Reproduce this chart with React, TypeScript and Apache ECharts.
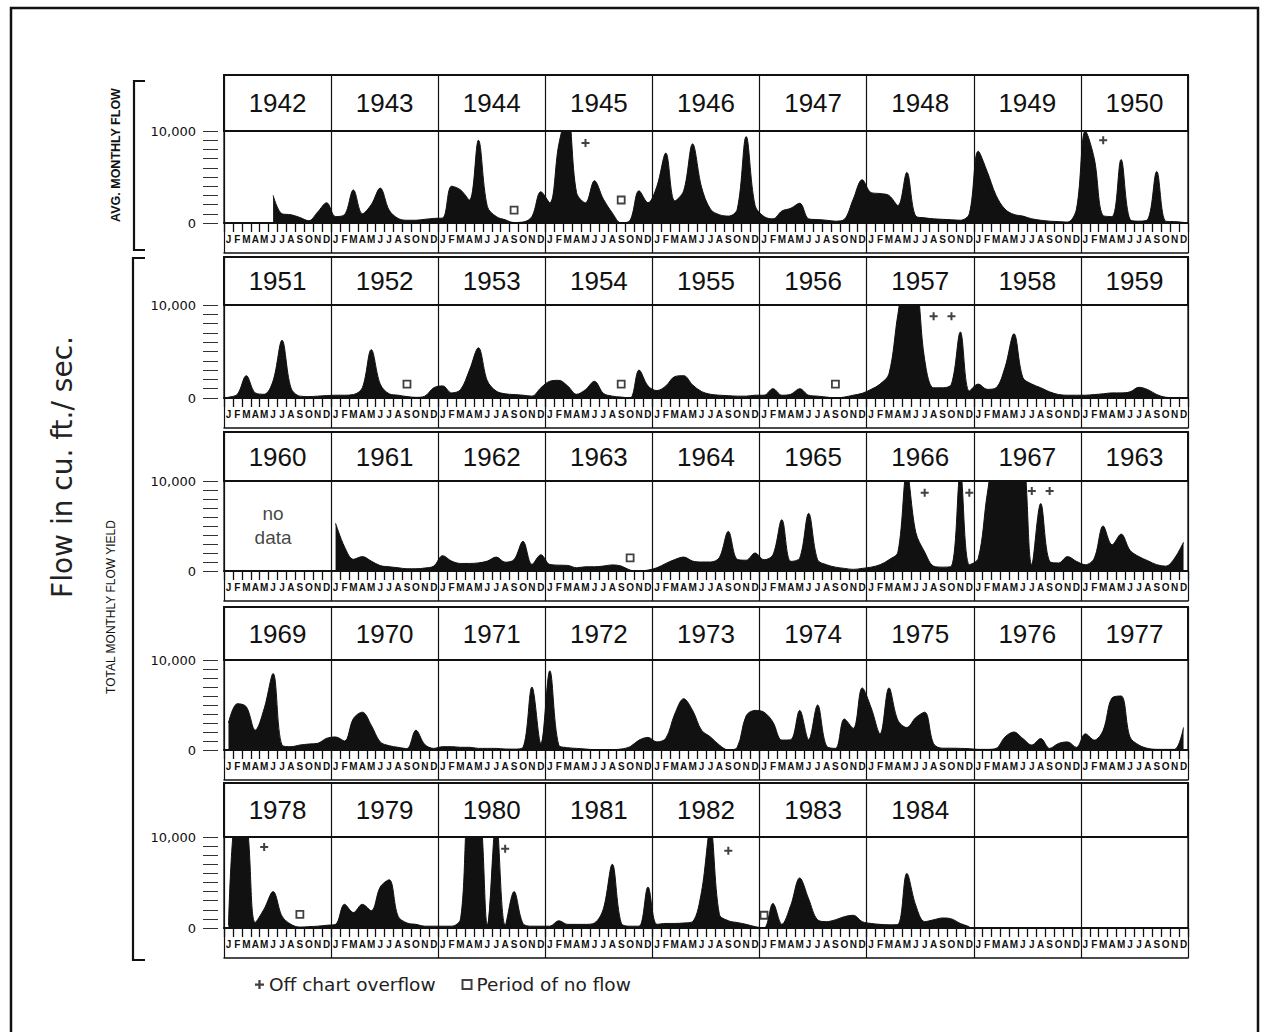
import React, { useEffect, useRef } from "react";
import * as echarts from "echarts";

// ---------------- DATA (monthly flow, cu. ft./sec.) ----------------
const MONTHS = ["J", "F", "M", "A", "M", "J", "J", "A", "S", "O", "N", "D"];
const FIRST_YEAR = 1942;
const YEARS_PER_ROW = 9;
const ROW_COUNT = 5;

// header texts as printed on the chart (last two cells blank)
const headerLabels = [
  "1942", "1943", "1944", "1945", "1946", "1947", "1948", "1949", "1950",
  "1951", "1952", "1953", "1954", "1955", "1956", "1957", "1958", "1959",
  "1960", "1961", "1962", "1963", "1964", "1965", "1966", "1967", "1963",
  "1969", "1970", "1971", "1972", "1973", "1974", "1975", "1976", "1977",
  "1978", "1979", "1980", "1981", "1982", "1983", "1984", "", "",
];

const f1942 = [null, null, null, null, null, 3000, 1000, 900, 600, 250, 1200, 2200];
const f1943 = [700, 900, 3600, 1000, 2000, 3800, 1400, 500, 300, 300, 400, 500];
const f1944 = [550, 4000, 3600, 2500, 9000, 1800, 700, 350, 50, 100, 700, 3400];
const f1945 = [2200, 8500, 12000, 3300, 2200, 4600, 2600, 1100, 0, 300, 3500, 2200];
const f1946 = [4000, 7600, 2400, 3500, 8600, 3900, 1500, 900, 750, 1500, 9400, 1900];
const f1947 = [700, 450, 1300, 1600, 2150, 450, 370, 300, 200, 400, 2600, 4700];
const f1948 = [3300, 3200, 3000, 1900, 5500, 750, 560, 450, 400, 350, 300, 1000];
const f1949 = [7800, 5600, 3000, 1500, 930, 750, 450, 300, 200, 150, 100, 1500];
const f1950 = [10000, 7000, 800, 700, 6900, 400, 200, 400, 5600, 200, 150, 70];

const f1951 = [100, 400, 2400, 550, 400, 1850, 6200, 1100, 200, 150, 200, 260];
const f1952 = [300, 300, 370, 1100, 5200, 1500, 450, 300, 150, 70, 200, 1100];
const f1953 = [1300, 550, 900, 3000, 5400, 1850, 740, 450, 370, 300, 200, 1100];
const f1954 = [1800, 1900, 1300, 400, 900, 1800, 500, 200, 100, 0, 3000, 1300];
const f1955 = [800, 1300, 2300, 2400, 1400, 700, 400, 300, 250, 200, 200, 300];
const f1956 = [300, 1000, 300, 400, 1000, 300, 200, 100, 0, 100, 300, 500];
const f1957 = [930, 1500, 2600, 9000, 14000, 13000, 4100, 1100, 1100, 1500, 7100, 740];
const f1958 = [1500, 930, 1100, 3300, 6900, 2200, 1500, 1100, 660, 370, 300, 300];
const f1959 = [300, 370, 450, 550, 550, 660, 1150, 900, 370, 80, 30, 20];

const f1960 = [null, null, null, null, null, null, null, null, null, null, null, null];
const f1961 = [5300, 2700, 1300, 1600, 1100, 600, 470, 360, 250, 250, 330, 550];
const f1962 = [1700, 1100, 840, 840, 900, 1100, 1550, 980, 1270, 3300, 730, 1800];
const f1963 = [730, 650, 620, 360, 470, 470, 550, 680, 550, 100, 0, 100];
const f1964 = [360, 840, 1270, 1550, 1100, 1000, 1000, 1500, 4400, 1300, 1200, 2000];
const f1965 = [1250, 1800, 5700, 1070, 1430, 6400, 1250, 700, 430, 290, 180, 290];
const f1966 = [430, 700, 1250, 2100, 11000, 4300, 2100, 540, 430, 540, 11000, 700];
const f1967 = [1400, 8500, 14000, 15000, 15000, 14000, 700, 7500, 1070, 890, 1600, 1070];
const f1968 = [700, 1430, 5000, 2900, 4100, 2300, 1600, 1140, 700, 540, 1430, 3200];

const f1969 = [3000, 5150, 4800, 2200, 4600, 8500, 550, 370, 550, 660, 740, 1300];
const f1970 = [1450, 1000, 3500, 4200, 2750, 900, 480, 300, 150, 2200, 600, 180];
const f1971 = [370, 370, 300, 300, 180, 180, 180, 110, 100, 300, 7000, 700];
const f1972 = [8800, 550, 260, 180, 110, 30, 20, 30, 110, 370, 1100, 1400];
const f1973 = [900, 1300, 4000, 5700, 4400, 2200, 1450, 550, 0, 300, 3800, 4400];
const f1974 = [4200, 3100, 1100, 1150, 4400, 1150, 5000, 440, 180, 3450, 2400, 6900];
const f1975 = [4700, 1800, 6900, 3300, 2500, 3600, 4200, 700, 200, 200, 180, 150];
const f1976 = [70, 70, 180, 1450, 2000, 1270, 550, 1270, 180, 730, 900, 290];
const f1977 = [1800, 1100, 2200, 5800, 6000, 1450, 550, 180, 70, 70, 70, 2500];

const f1978 = [300, 13000, 12000, 600, 2100, 4000, 1300, 400, 100, 150, 200, 300];
const f1979 = [400, 2600, 1700, 2600, 1900, 4500, 5300, 1300, 550, 400, 200, 200];
const f1980 = [200, 200, 1000, 13000, 13000, 300, 12000, 300, 4000, 500, 200, 200];
const f1981 = [200, 800, 400, 400, 400, 550, 2100, 7000, 550, 200, 200, 4500];
const f1982 = [400, 500, 500, 550, 700, 4000, 11000, 1500, 800, 600, 400, 150];
const f1983 = [0, 2700, 400, 2500, 5500, 3200, 900, 700, 900, 1250, 1400, 700];
const f1984 = [500, 400, 350, 400, 6000, 2500, 700, 900, 1100, 1000, 500, 150];

const flowByYear: Record<number, (number | null)[]> = {
  1942: f1942, 1943: f1943, 1944: f1944, 1945: f1945, 1946: f1946, 1947: f1947, 1948: f1948, 1949: f1949, 1950: f1950,
  1951: f1951, 1952: f1952, 1953: f1953, 1954: f1954, 1955: f1955, 1956: f1956, 1957: f1957, 1958: f1958, 1959: f1959,
  1960: f1960, 1961: f1961, 1962: f1962, 1963: f1963, 1964: f1964, 1965: f1965, 1966: f1966, 1967: f1967, 1968: f1968,
  1969: f1969, 1970: f1970, 1971: f1971, 1972: f1972, 1973: f1973, 1974: f1974, 1975: f1975, 1976: f1976, 1977: f1977,
  1978: f1978, 1979: f1979, 1980: f1980, 1981: f1981, 1982: f1982, 1983: f1983, 1984: f1984,
};

// [year, month index, plotted height]
const overflowMarks = [
  [1945, 4, 8700], [1950, 2, 9000], [1957, 7, 8800], [1957, 9, 8800],
  [1966, 6, 8700], [1966, 11, 8700], [1967, 6, 8900], [1967, 8, 8900],
  [1978, 4, 8900], [1980, 7, 8700], [1982, 8, 8500],
];
const noFlowMarks = [
  [1944, 8, 1400], [1945, 8, 2500], [1952, 8, 1500], [1954, 8, 1500],
  [1956, 8, 1500], [1963, 9, 1450], [1978, 8, 1500], [1983, 0, 1400],
];
// "no data" note: [year, month index, height]
const noDataNote = [1960, 5, 5100];

// ---------------- LAYOUT ----------------
const W = 1268;
const H = 1032;
const LEFT = 224;
const WIDTH = 964;
const rowLayout = [
  { head: 75, top: 131, base: 223 },
  { head: 257, top: 305, base: 398 },
  { head: 432, top: 481, base: 571 },
  { head: 607, top: 660, base: 750 },
  { head: 783, top: 837, base: 928 },
];
const INK = "#111";
const PLUS = "path://M3,0h2v3h3v2h-3v3h-2v-3h-3v-2h3z";

function yearsOfRow(r: number) {
  return Array.from({ length: YEARS_PER_ROW }, (_, i) => FIRST_YEAR + r * YEARS_PER_ROW + i);
}
function rowOf(y: number) {
  return Math.floor((y - FIRST_YEAR) / YEARS_PER_ROW);
}
function colOf(y: number) {
  return (y - FIRST_YEAR) % YEARS_PER_ROW;
}

function buildOption() {
  const grid: any[] = [];
  const xAxis: any[] = [];
  const yAxis: any[] = [];
  const series: any[] = [];

  for (let r = 0; r < ROW_COUNT; r++) {
    const L = rowLayout[r];
    const years = yearsOfRow(r);
    const headH = L.top - L.head;
    const gH = 2 * r;
    const gP = 2 * r + 1;

    grid.push({ left: LEFT, width: WIDTH, top: L.head, height: headH, show: true, borderColor: INK, borderWidth: 2, backgroundColor: "transparent" });
    grid.push({ left: LEFT, width: WIDTH, top: L.top, height: L.base - L.top, show: true, borderColor: INK, borderWidth: 1.3, backgroundColor: "transparent" });

    // header axis (year labels)
    xAxis.push({
      gridIndex: gH, type: "category", position: "bottom",
      data: years.map(String),
      axisLine: { show: false }, axisTick: { show: false },
      splitLine: { show: true, interval: 0, lineStyle: { color: INK, width: 1.2 } },
      axisLabel: {
        inside: true, interval: 0, margin: headH / 2, verticalAlign: "middle",
        fontSize: 26, fontFamily: "Liberation Sans, Arial, sans-serif", color: INK,
        formatter: (_v: string, i: number) => headerLabels[r * YEARS_PER_ROW + i],
      },
    });
    // month axis
    const monthKeys = years.flatMap((y) => MONTHS.map((_m, i) => `${y}-${i}`));
    xAxis.push({
      gridIndex: gP, type: "category", position: "bottom", data: monthKeys,
      axisLine: { show: true, lineStyle: { color: INK, width: 2 } },
      axisTick: { show: true, interval: 0, length: 9, lineStyle: { color: INK, width: 1.3 } },
      axisLabel: {
        interval: 0, margin: 11, fontSize: 10, fontWeight: "bold", color: INK,
        fontFamily: "Liberation Sans Narrow, Liberation Sans, Arial, sans-serif",
        formatter: (v: string) => MONTHS[+v.split("-")[1]],
      },
      splitLine: { show: false },
    });
    // year dividers axis
    xAxis.push({
      gridIndex: gP, type: "category", position: "bottom", offset: 30,
      data: years.map(String),
      axisLine: { show: true, lineStyle: { color: INK, width: 1.5 } },
      axisTick: { show: true, inside: true, length: 30, interval: 0, lineStyle: { color: INK, width: 1.2 } },
      axisLabel: { show: false },
      splitLine: { show: true, interval: 0, lineStyle: { color: INK, width: 1.2 } },
    });

    yAxis.push({ gridIndex: gH, type: "value", show: false, min: 0, max: 1 });
    yAxis.push({
      gridIndex: gP, type: "value", min: 0, max: 10000, interval: 1000, offset: 6,
      axisLine: { show: false },
      axisTick: { show: true, length: 15, lineStyle: { color: "#333", width: 1 } },
      splitLine: { show: false },
      axisLabel: {
        margin: 22, fontSize: 13, color: INK, fontFamily: "DejaVu Sans, sans-serif",
        formatter: (v: number) => (v === 10000 ? "10,000" : v === 0 ? "0" : ""),
      },
    });

    const xMonth = 3 * r + 1;
    const data = years.flatMap((y) => flowByYear[y] ?? MONTHS.map(() => null));
    series.push({
      type: "line", xAxisIndex: xMonth, yAxisIndex: gP, data,
      smooth: 0.35, symbol: "none", connectNulls: false, silent: true, z: 2,
      lineStyle: { color: INK, width: 1 }, itemStyle: { color: INK },
      areaStyle: { color: INK, opacity: 1 },
    });
    series.push({
      type: "scatter", name: "Off chart overflow", xAxisIndex: xMonth, yAxisIndex: gP,
      symbol: PLUS, symbolSize: 8, itemStyle: { color: INK }, z: 5, silent: true,
      data: overflowMarks.filter((m) => rowOf(m[0]) === r).map((m) => [colOf(m[0]) * 12 + m[1], m[2]]),
    });
    series.push({
      type: "scatter", name: "Period of no flow", xAxisIndex: xMonth, yAxisIndex: gP,
      symbol: "rect", symbolSize: 7, z: 5, silent: true,
      itemStyle: { color: "#fff", borderColor: INK, borderWidth: 1.8 },
      data: noFlowMarks.filter((m) => rowOf(m[0]) === r).map((m) => [colOf(m[0]) * 12 + m[1], m[2]]),
    });
    if (rowOf(noDataNote[0]) === r) {
      series.push({
        type: "scatter", xAxisIndex: xMonth, yAxisIndex: gP, symbolSize: 1, silent: true, z: 6,
        itemStyle: { color: "rgba(0,0,0,0)" },
        label: { show: true, position: "inside", formatter: "no\ndata", fontSize: 19, lineHeight: 24, color: INK, fontFamily: "Liberation Sans, Arial, sans-serif" },
        data: [[colOf(noDataNote[0]) * 12 + noDataNote[1], noDataNote[2]]],
      });
    }
  }

  return {
    animation: false,
    backgroundColor: "#fff",
    grid, xAxis, yAxis, series,
    legend: {
      show: true, left: 250, top: 970, orient: "horizontal", itemGap: 26,
      itemWidth: 9, itemHeight: 9, selectedMode: false,
      textStyle: { fontSize: 18.5, color: "#222", fontFamily: "DejaVu Sans, sans-serif" },
      data: [{ name: "Off chart overflow", icon: PLUS }, { name: "Period of no flow" }],
    },
    graphic: [
      { type: "rect", shape: { x: 11, y: 8, width: 1247, height: 1045 }, style: { fill: "none", stroke: INK, lineWidth: 2.5 } },
      { type: "polyline", shape: { points: [[145, 81], [134, 81], [134, 250], [145, 250]] }, style: { fill: "none", stroke: INK, lineWidth: 2.2 } },
      { type: "polyline", shape: { points: [[145, 258], [133, 258], [133, 960], [145, 960]] }, style: { fill: "none", stroke: INK, lineWidth: 2.2 } },
      { type: "text", x: 116, y: 155, rotation: Math.PI / 2, style: { text: "AVG. MONTHLY FLOW", fontSize: 12.5, fontWeight: "bold", fontFamily: "Liberation Sans, Arial, sans-serif", fill: INK, align: "center", verticalAlign: "middle" } },
      { type: "text", x: 111, y: 607, rotation: Math.PI / 2, style: { text: "TOTAL MONTHLY FLOW YIELD", fontSize: 12, fontFamily: "Liberation Sans, Arial, sans-serif", fill: INK, align: "center", verticalAlign: "middle" } },
      { type: "text", x: 62, y: 467, rotation: Math.PI / 2, style: { text: "Flow in cu. ft./ sec.", fontSize: 28, fontFamily: "DejaVu Sans, sans-serif", fill: "#222", align: "center", verticalAlign: "middle" } },
    ],
  };
}

export default function App() {
  const ref = useRef<HTMLDivElement>(null);
  useEffect(() => {
    document.body.style.margin = "0";
    document.body.style.background = "#fff";
    if (!ref.current) return;
    const chart = echarts.init(ref.current, undefined, { renderer: "svg" });
    chart.setOption(buildOption() as any);
    return () => chart.dispose();
  }, []);
  return <div ref={ref} style={{ width: W, height: H, background: "#fff" }} />;
}
